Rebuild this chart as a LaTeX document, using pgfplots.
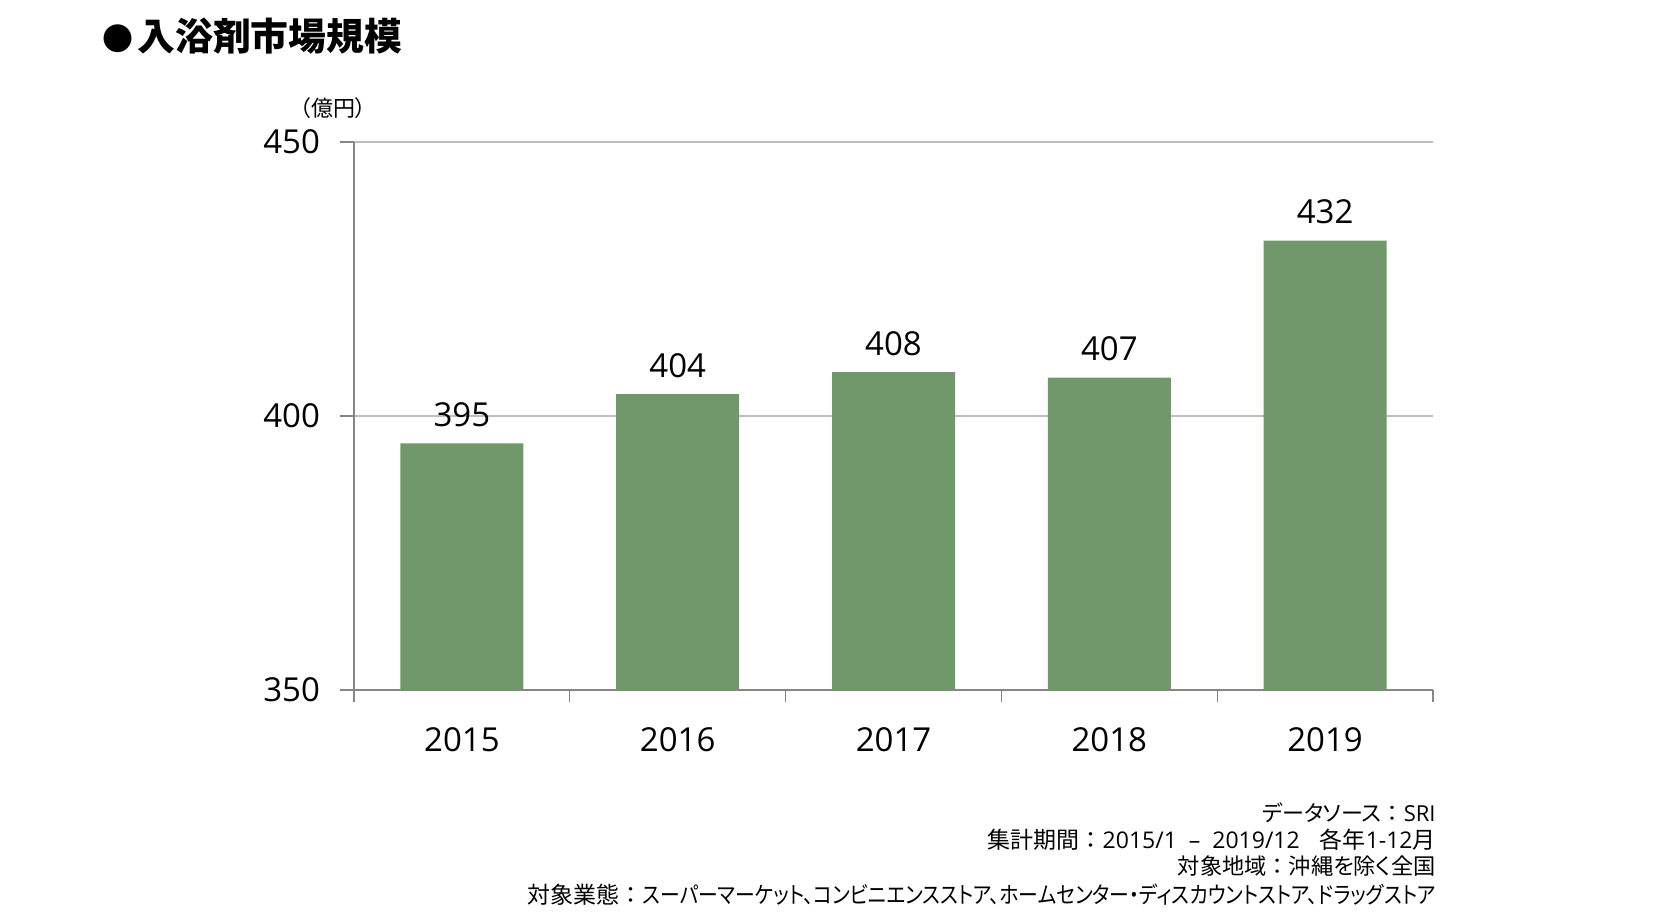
\documentclass[border=0pt]{standalone}
\usepackage{fontspec}
\setmainfont{Noto Sans CJK JP}[RawFeature=+palt]
\newfontfamily\jpfull{Noto Sans CJK JP}
\newfontfamily\lat{Open Sans}
\usepackage{pgfplots}
\pgfplotsset{compat=1.18}
\definecolor{barg}{RGB}{113,152,106}
\definecolor{gridg}{RGB}{190,190,190}
\definecolor{axisg}{RGB}{134,134,134}
\newcommand{\fc}{{\jpfull ：}}
\begin{document}
\begin{tikzpicture}
\path[use as bounding box] (0,0) rectangle (838.5pt,-461.5pt);
\begin{axis}[
  at={(177pt,-345pt)}, anchor=south west,
  width=539.5pt, height=274pt, scale only axis,
  ymin=350, ymax=450, xmin=-0.5, xmax=4.5,
  ytick={350,400,450},
  xtick={0,1,2,3,4},
  xticklabels={2015,2016,2017,2018,2019},
  minor xtick={-0.5,0.5,1.5,2.5,3.5,4.5},
  axis x line*=bottom, axis y line*=left,
  axis line style={draw=axisg, line width=0.6pt},
  tick align=outside,
  major tick length=7pt, minor tick length=6pt,
  major x tick style={draw=none},
  minor x tick style={draw=axisg, line width=0.6pt},
  major y tick style={draw=axisg, line width=0.6pt},
  ymajorgrids, grid style={draw=gridg, line width=0.6pt},
  /pgf/number format/assume math mode=true,
  /pgf/number format/.cd, 1000 sep={}, /pgfplots/.cd,
  ticklabel style={font=\lat\fontsize{16.5}{16.5}\selectfont, text=black},
  yticklabel style={xshift=-6.5pt},
  xticklabel style={yshift=-8pt},
  nodes near coords,
  every node near coord/.append style={font=\lat\fontsize{16.5}{16.5}\selectfont, text=black, inner sep=0pt, yshift=8pt},
  clip=false,
]
\addplot[ybar, bar width=61.5pt, fill=barg, draw=none] coordinates {(0,395) (1,404) (2,408) (3,407) (4,432)};
\end{axis}
\node[anchor=west, font=\bfseries\fontsize{18.9}{18.9}\selectfont, inner sep=0pt] at (51pt,-18pt) {{\fontsize{15.5}{15.5}\selectfont ●}\hspace{2pt}入浴剤市場規模};
\node[font=\fontsize{11}{11}\selectfont, inner sep=0pt] at (166.5pt,-54pt) {（億円）};
\begin{scope}[every node/.style={anchor=east, inner sep=0pt, font=\fontsize{11.5}{11.5}\selectfont}]
\node[font=\fontsize{11}{11}\selectfont] at (718pt,-406.5pt) {データソース\fc{\lat SRI}};
\node at (718pt,-420pt) {集計期間\fc{\lat 2015/1\hspace{6pt}–\hspace{6pt}2019/12}\hspace{10pt}各年{\lat 1-12}月};
\node[font=\fontsize{11.1}{11.1}\selectfont] at (718pt,-433pt) {対象地域\fc 沖縄を除く全国};
\node at (718pt,-447.5pt) {対象業態\fc\scalebox{0.86}[1]{スーパーマーケット、コンビニエンスストア、ホームセンター・ディスカウントストア、ドラッグストア}};
\end{scope}
\end{tikzpicture}
\end{document}
